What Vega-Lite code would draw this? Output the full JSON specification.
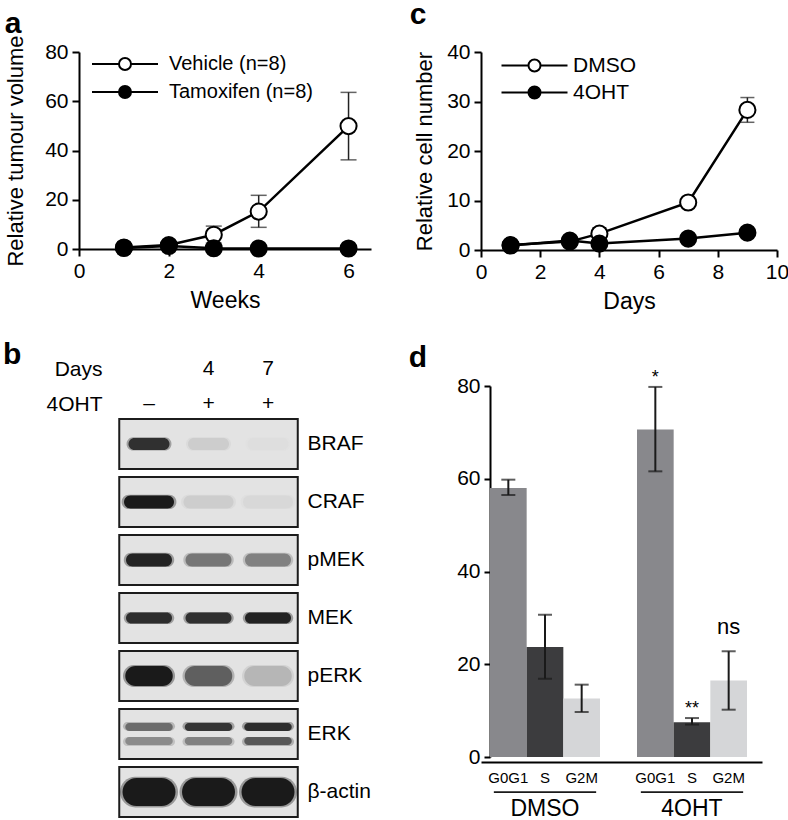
{
  "$schema": "https://vega.github.io/schema/vega-lite/v6.json",
  "padding": {"left": 2, "top": 0, "right": 0, "bottom": 0},
  "background": "white",
  "config": {
    "font": "Liberation Sans",
    "view": {"stroke": null},
    "axis": {"domainColor": "black", "tickColor": "black", "labelColor": "black", "titleColor": "black", "domainWidth": 2, "tickWidth": 2, "grid": false, "labelFont": "Liberation Sans", "titleFont": "Liberation Sans", "titleFontWeight": "normal"},
    "legend": {"labelFont": "Liberation Sans", "labelColor": "black"},
    "title": {"font": "Liberation Sans", "fontSize": 30, "fontWeight": "bold", "anchor": "start", "frame": "bounds", "baseline": "alphabetic", "color": "black"}
  },
  "spacing": 37,
  "resolve": {"scale": {"color": "independent", "fill": "independent", "shape": "independent"}, "legend": {"fill": "independent", "color": "independent", "shape": "independent"}},
  "hconcat": [
    {
      "spacing": 28,
      "resolve": {"scale": {"color": "independent", "fill": "independent", "shape": "independent"}, "legend": {"fill": "independent", "color": "independent", "shape": "independent"}},
      "vconcat": [
        {
          "title": {"text": "a", "offset": -4},
          "width": 292,
          "height": 197,
          "data": {"values": [
            {"series": "Vehicle (n=8)", "week": 1, "vol": 0.6, "lo": null, "hi": null},
            {"series": "Vehicle (n=8)", "week": 2, "vol": 1.6, "lo": null, "hi": null},
            {"series": "Vehicle (n=8)", "week": 3, "vol": 5.8, "lo": 2.4, "hi": 9.3},
            {"series": "Vehicle (n=8)", "week": 4, "vol": 15.2, "lo": 8.8, "hi": 21.8},
            {"series": "Vehicle (n=8)", "week": 6, "vol": 49.9, "lo": 36.2, "hi": 63.6},
            {"series": "Tamoxifen (n=8)", "week": 1, "vol": 0.4, "lo": null, "hi": null},
            {"series": "Tamoxifen (n=8)", "week": 2, "vol": 1.2, "lo": null, "hi": null},
            {"series": "Tamoxifen (n=8)", "week": 3, "vol": 0.3, "lo": null, "hi": null},
            {"series": "Tamoxifen (n=8)", "week": 4, "vol": 0.2, "lo": null, "hi": null},
            {"series": "Tamoxifen (n=8)", "week": 6, "vol": 0.2, "lo": null, "hi": null}
          ]},
          "encoding": {
            "x": {"field": "week", "type": "quantitative", "scale": {"domain": [0, 6.5], "nice": false, "zero": false},
                  "axis": {"title": "Weeks", "values": [0, 2, 4, 6], "tickSize": 7, "labelFontSize": 21, "titleFontSize": 23, "labelPadding": 4, "titlePadding": 8, "labelFlush": false}}
          },
          "layer": [
            {"transform": [{"filter": "datum.hi != null"}], "mark": {"type": "rule", "color": "#222", "strokeWidth": 1.5},
             "encoding": {"y": {"field": "lo", "type": "quantitative", "scale": {"domain": [0, 80], "nice": false}}, "y2": {"field": "hi"}}},
            {"transform": [{"filter": "datum.hi != null"}], "mark": {"type": "tick", "orient": "horizontal", "size": 16, "thickness": 1.5, "color": "#222"},
             "encoding": {"y": {"field": "hi", "type": "quantitative", "scale": {"domain": [0, 80], "nice": false}}}},
            {"transform": [{"filter": "datum.hi != null"}], "mark": {"type": "tick", "orient": "horizontal", "size": 16, "thickness": 1.5, "color": "#222"},
             "encoding": {"y": {"field": "lo", "type": "quantitative", "scale": {"domain": [0, 80], "nice": false}}}},
            {"mark": {"type": "line", "color": "black", "strokeWidth": 2.5},
             "encoding": {"y": {"field": "vol", "type": "quantitative", "scale": {"domain": [0, 80], "nice": false},
                                "axis": {"title": "Relative tumour volume", "values": [0, 20, 40, 60, 80], "tickSize": 7, "labelFontSize": 21, "titleFontSize": 22, "labelPadding": 4, "titlePadding": 17}},
                          "detail": {"field": "series"}}},
            {"mark": {"type": "point", "filled": true, "stroke": "black", "strokeWidth": 2, "size": 260, "opacity": 1},
             "encoding": {"y": {"field": "vol", "type": "quantitative", "scale": {"domain": [0, 80], "nice": false}},
                          "fill": {"field": "series", "type": "nominal", "scale": {"domain": ["Vehicle (n=8)", "Tamoxifen (n=8)"], "range": ["white", "black"]},
                                   "legend": {"orient": "none", "legendX": 36, "legendY": 2, "title": null, "padding": 0,
                                              "symbolType": "M-5.5,0H-1M1,0H5.5M-1,0A1,1,0,1,0,1,0A1,1,0,1,0,-1,0Z", "symbolSize": 144,
                                              "symbolStrokeColor": "black", "symbolStrokeWidth": 2, "labelFontSize": 20, "labelOffset": 34, "rowPadding": 8,
                                              "encode": {"symbols": {"update": {"stroke": {"value": "black"}, "strokeWidth": {"value": 2}}}}}}}}
          ]
        },
        {
          "title": {"text": "b", "offset": -12, "dx": -43},
          "width": 219,
          "height": 452,
          "resolve": {"scale": {"y": "independent"}, "axis": {"y": "independent"}},
          "layer": [
            {
              "layer": [
                {
                  "data": {"values": [
                    {"protein": "BRAF"}, {"protein": "CRAF"}, {"protein": "pMEK"}, {"protein": "MEK"},
                    {"protein": "pERK"}, {"protein": "ERK"}, {"protein": "β-actin"}
                  ]},
                  "mark": {"type": "rect", "fill": "#e3e3e3", "stroke": "#1c1c1c", "strokeWidth": 2},
                  "encoding": {
                    "x": {"datum": 0.5, "type": "quantitative", "scale": {"domain": [-0.1765, 3.504], "nice": false, "zero": false}, "axis": null},
                    "x2": {"datum": 3.5},
                    "y": {"field": "protein", "type": "nominal",
                          "scale": {"domain": ["BRAF", "CRAF", "pMEK", "MEK", "pERK", "ERK", "β-actin"], "range": [54, 452], "paddingInner": 0.14, "paddingOuter": 0},
                          "axis": {"orient": "right", "title": null, "domain": false, "ticks": false, "labelFontSize": 21, "labelPadding": 9}}
                  }
                },
                {
                  "data": {"values": [
                    {"protein": "BRAF", "band": "BRAF", "lane": 1, "signal": 0.88},
                    {"protein": "BRAF", "band": "BRAF", "lane": 2, "signal": 0.1},
                    {"protein": "BRAF", "band": "BRAF", "lane": 3, "signal": 0.02},
                    {"protein": "CRAF", "band": "CRAF", "lane": 1, "signal": 1.0},
                    {"protein": "CRAF", "band": "CRAF", "lane": 2, "signal": 0.1},
                    {"protein": "CRAF", "band": "CRAF", "lane": 3, "signal": 0.05},
                    {"protein": "pMEK", "band": "pMEK", "lane": 1, "signal": 0.95},
                    {"protein": "pMEK", "band": "pMEK", "lane": 2, "signal": 0.5},
                    {"protein": "pMEK", "band": "pMEK", "lane": 3, "signal": 0.45},
                    {"protein": "MEK", "band": "MEK", "lane": 1, "signal": 0.9},
                    {"protein": "MEK", "band": "MEK", "lane": 2, "signal": 0.88},
                    {"protein": "MEK", "band": "MEK", "lane": 3, "signal": 0.96},
                    {"protein": "pERK", "band": "pERK", "lane": 1, "signal": 1.0},
                    {"protein": "pERK", "band": "pERK", "lane": 2, "signal": 0.62},
                    {"protein": "pERK", "band": "pERK", "lane": 3, "signal": 0.2},
                    {"protein": "ERK", "band": "ERK upper", "lane": 1, "signal": 0.55},
                    {"protein": "ERK", "band": "ERK upper", "lane": 2, "signal": 0.85},
                    {"protein": "ERK", "band": "ERK upper", "lane": 3, "signal": 0.9},
                    {"protein": "ERK", "band": "ERK lower", "lane": 1, "signal": 0.4},
                    {"protein": "ERK", "band": "ERK lower", "lane": 2, "signal": 0.45},
                    {"protein": "ERK", "band": "ERK lower", "lane": 3, "signal": 0.65},
                    {"protein": "β-actin", "band": "β-actin", "lane": 1, "signal": 1.0},
                    {"protein": "β-actin", "band": "β-actin", "lane": 2, "signal": 1.0},
                    {"protein": "β-actin", "band": "β-actin", "lane": 3, "signal": 1.0}
                  ]},
                  "encoding": {
                    "x": {"field": "lane", "type": "quantitative", "scale": {"domain": [-0.1765, 3.504], "nice": false, "zero": false}, "axis": null},
                    "y": {"field": "protein", "type": "nominal"},
                    "shape": {"field": "band", "type": "nominal", "legend": null,
                              "scale": {"domain": ["BRAF", "CRAF", "pMEK", "MEK", "pERK", "ERK upper", "ERK lower", "β-actin"],
                                        "range": [
                                          "M-0.58,-0.24H0.58A0.24,0.24,0,0,1,0.58,0.24H-0.58A0.24,0.24,0,0,1,-0.58,-0.24Z",
                                          "M-0.74,-0.26H0.74A0.26,0.26,0,0,1,0.74,0.26H-0.74A0.26,0.26,0,0,1,-0.74,-0.26Z",
                                          "M-0.66,-0.26H0.66A0.26,0.26,0,0,1,0.66,0.26H-0.66A0.26,0.26,0,0,1,-0.66,-0.26Z",
                                          "M-0.7,-0.22H0.7A0.22,0.22,0,0,1,0.7,0.22H-0.7A0.22,0.22,0,0,1,-0.7,-0.22Z",
                                          "M-0.55,-0.4H0.55A0.4,0.4,0,0,1,0.55,0.4H-0.55A0.4,0.4,0,0,1,-0.55,-0.4Z",
                                          "M-0.79,-0.44H0.79A0.16,0.16,0,0,1,0.79,-0.12H-0.79A0.16,0.16,0,0,1,-0.79,-0.44Z",
                                          "M-0.79,0.12H0.79A0.16,0.16,0,0,1,0.79,0.44H-0.79A0.16,0.16,0,0,1,-0.79,0.12Z",
                                          "M-0.5,-0.56H0.5A0.56,0.56,0,0,1,0.5,0.56H-0.5A0.56,0.56,0,0,1,-0.5,-0.56Z"
                                        ]}},
                    "color": {"field": "signal", "type": "quantitative", "legend": null, "scale": {"domain": [0, 1], "range": ["#e3e3e3", "#0c0c0c"]}}
                  },
                  "layer": [
                    {"mark": {"type": "point", "filled": true, "size": 3000, "opacity": 0.35, "strokeWidth": 0}},
                    {"mark": {"type": "point", "filled": true, "size": 2500, "opacity": 0.9, "strokeWidth": 0}}
                  ]
                }
              ]
            },
            {
              "data": {"values": [
                {"row": "Days", "lane": 2, "label": "4"},
                {"row": "Days", "lane": 3, "label": "7"},
                {"row": "4OHT", "lane": 1, "label": "–"},
                {"row": "4OHT", "lane": 2, "label": "+"},
                {"row": "4OHT", "lane": 3, "label": "+"}
              ]},
              "mark": {"type": "text", "fontSize": 21, "baseline": "middle", "color": "black"},
              "encoding": {
                "x": {"field": "lane", "type": "quantitative", "scale": {"domain": [-0.1765, 3.504], "nice": false, "zero": false}, "axis": null},
                "y": {"field": "row", "type": "ordinal", "scale": {"type": "point", "domain": ["Days", "4OHT"], "range": [4, 39], "padding": 0},
                      "axis": {"orient": "left", "offset": -40, "title": null, "domain": false, "ticks": false, "labelFontSize": 21, "labelPadding": 17}},
                "text": {"field": "label"}
              }
            }
          ]
        }
      ]
    },
    {
      "spacing": 29,
      "resolve": {"scale": {"color": "independent", "fill": "independent", "shape": "independent"}, "legend": {"fill": "independent", "color": "independent", "shape": "independent"}},
      "vconcat": [
        {
          "title": {"text": "c", "offset": 11, "dx": -4},
          "width": 296,
          "height": 198,
          "data": {"values": [
            {"series": "DMSO", "day": 1, "cells": 1.0, "lo": null, "hi": null},
            {"series": "DMSO", "day": 3, "cells": 1.7, "lo": null, "hi": null},
            {"series": "DMSO", "day": 4, "cells": 3.3, "lo": 2.2, "hi": 4.5},
            {"series": "DMSO", "day": 7, "cells": 9.6, "lo": null, "hi": null},
            {"series": "DMSO", "day": 9, "cells": 28.3, "lo": 25.8, "hi": 30.8},
            {"series": "4OHT", "day": 1, "cells": 0.9, "lo": null, "hi": null},
            {"series": "4OHT", "day": 3, "cells": 1.9, "lo": null, "hi": null},
            {"series": "4OHT", "day": 4, "cells": 1.3, "lo": null, "hi": null},
            {"series": "4OHT", "day": 7, "cells": 2.3, "lo": null, "hi": null},
            {"series": "4OHT", "day": 9, "cells": 3.5, "lo": null, "hi": null}
          ]},
          "encoding": {
            "x": {"field": "day", "type": "quantitative", "scale": {"domain": [0, 10], "nice": false, "zero": false},
                  "axis": {"title": "Days", "values": [0, 2, 4, 6, 8, 10], "tickSize": 7, "labelFontSize": 21, "titleFontSize": 23, "labelPadding": 4, "titlePadding": 8, "labelFlush": false}}
          },
          "layer": [
            {"transform": [{"filter": "datum.hi != null"}], "mark": {"type": "rule", "color": "#222", "strokeWidth": 1.5},
             "encoding": {"y": {"field": "lo", "type": "quantitative", "scale": {"domain": [0, 40], "nice": false}}, "y2": {"field": "hi"}}},
            {"transform": [{"filter": "datum.hi != null"}], "mark": {"type": "tick", "orient": "horizontal", "size": 14, "thickness": 1.5, "color": "#222"},
             "encoding": {"y": {"field": "hi", "type": "quantitative", "scale": {"domain": [0, 40], "nice": false}}}},
            {"transform": [{"filter": "datum.hi != null"}], "mark": {"type": "tick", "orient": "horizontal", "size": 14, "thickness": 1.5, "color": "#222"},
             "encoding": {"y": {"field": "lo", "type": "quantitative", "scale": {"domain": [0, 40], "nice": false}}}},
            {"mark": {"type": "line", "color": "black", "strokeWidth": 2.5},
             "encoding": {"y": {"field": "cells", "type": "quantitative", "scale": {"domain": [0, 40], "nice": false},
                                "axis": {"title": "Relative cell number", "values": [0, 10, 20, 30, 40], "tickSize": 7, "labelFontSize": 21, "titleFontSize": 22, "labelPadding": 4, "titlePadding": 10}},
                          "detail": {"field": "series"}}},
            {"mark": {"type": "point", "filled": true, "stroke": "black", "strokeWidth": 2, "size": 260, "opacity": 1},
             "encoding": {"y": {"field": "cells", "type": "quantitative", "scale": {"domain": [0, 40], "nice": false}},
                          "fill": {"field": "series", "type": "nominal", "scale": {"domain": ["DMSO", "4OHT"], "range": ["white", "black"]},
                                   "legend": {"orient": "none", "legendX": 43, "legendY": 3, "title": null, "padding": 0,
                                              "symbolType": "M-5.5,0H-1M1,0H5.5M-1,0A1,1,0,1,0,1,0A1,1,0,1,0,-1,0Z", "symbolSize": 144,
                                              "symbolStrokeColor": "black", "symbolStrokeWidth": 2, "labelFontSize": 21, "labelOffset": 28, "rowPadding": 5,
                                              "encode": {"symbols": {"update": {"stroke": {"value": "black"}, "strokeWidth": {"value": 2}}}}}}}}
          ]
        },
        {
          "title": {"text": "d", "offset": -4, "dx": -48},
          "width": 281,
          "height": 371,
          "data": {"values": [
            {"treatment": "DMSO", "phase": "G0G1", "pct": 58.0, "lo": 56.5, "hi": 59.8, "sig": ""},
            {"treatment": "DMSO", "phase": "S", "pct": 23.7, "lo": 16.9, "hi": 30.7, "sig": ""},
            {"treatment": "DMSO", "phase": "G2M", "pct": 12.6, "lo": 9.7, "hi": 15.6, "sig": ""},
            {"treatment": "4OHT", "phase": "G0G1", "pct": 70.6, "lo": 61.6, "hi": 79.8, "sig": "*"},
            {"treatment": "4OHT", "phase": "S", "pct": 7.5, "lo": 7.0, "hi": 8.4, "sig": "**"},
            {"treatment": "4OHT", "phase": "G2M", "pct": 16.5, "lo": 10.2, "hi": 22.8, "sig": "ns"}
          ]},
          "encoding": {
            "x": {"field": "treatment", "type": "nominal",
                  "scale": {"domain": ["DMSO", "4OHT"], "paddingInner": 0.2517, "paddingOuter": 0.0816, "align": 0.375},
                  "axis": {"title": null, "orient": "bottom", "offset": 5, "ticks": false, "labelFontSize": 23, "labelPadding": 35, "labelAngle": 0}}
          },
          "layer": [
            {"mark": {"type": "bar"},
             "encoding": {
               "xOffset": {"field": "phase", "type": "nominal", "scale": {"domain": ["G0G1", "S", "G2M"], "paddingInner": 0, "paddingOuter": 0}},
               "y": {"field": "pct", "type": "quantitative", "scale": {"domain": [0, 80], "nice": false},
                     "axis": {"title": null, "offset": -9, "values": [0, 20, 40, 60, 80], "tickSize": 6, "labelFontSize": 21, "labelPadding": 4}},
               "color": {"field": "phase", "type": "nominal", "legend": null, "scale": {"domain": ["G0G1", "S", "G2M"], "range": ["#88888c", "#3c3c3e", "#d5d6d8"]}}
             }},
            {"mark": {"type": "rule", "color": "#1a1a1a", "strokeWidth": 2},
             "encoding": {
               "xOffset": {"field": "phase", "type": "nominal", "scale": {"domain": ["G0G1", "S", "G2M"], "paddingInner": 0, "paddingOuter": 0}},
               "y": {"field": "lo", "type": "quantitative", "scale": {"domain": [0, 80], "nice": false}}, "y2": {"field": "hi"}
             }},
            {"mark": {"type": "tick", "orient": "horizontal", "size": 14, "thickness": 2, "color": "#1a1a1a"},
             "encoding": {
               "xOffset": {"field": "phase", "type": "nominal", "scale": {"domain": ["G0G1", "S", "G2M"], "paddingInner": 0, "paddingOuter": 0}},
               "y": {"field": "hi", "type": "quantitative", "scale": {"domain": [0, 80], "nice": false}}
             }},
            {"mark": {"type": "tick", "orient": "horizontal", "size": 14, "thickness": 2, "color": "#1a1a1a"},
             "encoding": {
               "xOffset": {"field": "phase", "type": "nominal", "scale": {"domain": ["G0G1", "S", "G2M"], "paddingInner": 0, "paddingOuter": 0}},
               "y": {"field": "lo", "type": "quantitative", "scale": {"domain": [0, 80], "nice": false}}
             }},
            {"mark": {"type": "text", "fontSize": 15, "baseline": "middle", "color": "black"},
             "encoding": {
               "xOffset": {"field": "phase", "type": "nominal", "scale": {"domain": ["G0G1", "S", "G2M"], "paddingInner": 0, "paddingOuter": 0}},
               "y": {"datum": -4.5, "type": "quantitative", "scale": {"domain": [0, 80], "nice": false}},
               "text": {"field": "phase"}
             }},
            {"transform": [{"filter": "datum.phase == 'S'"}],
             "mark": {"type": "bar", "color": "#1a1a1a", "width": {"band": 0.93}},
             "encoding": {
               "y": {"datum": -7.4, "type": "quantitative", "scale": {"domain": [0, 80], "nice": false}},
               "y2": {"datum": -7.75}
             }},
            {"transform": [{"filter": "datum.sig == '*' || datum.sig == '**'"}],
             "mark": {"type": "text", "fontSize": 18, "baseline": "alphabetic", "dy": -4, "color": "black"},
             "encoding": {
               "xOffset": {"field": "phase", "type": "nominal", "scale": {"domain": ["G0G1", "S", "G2M"], "paddingInner": 0, "paddingOuter": 0}},
               "y": {"field": "hi", "type": "quantitative", "scale": {"domain": [0, 80], "nice": false}},
               "text": {"field": "sig"}
             }},
            {"transform": [{"filter": "datum.sig == 'ns'"}],
             "mark": {"type": "text", "fontSize": 22, "baseline": "alphabetic", "dy": -17, "color": "black"},
             "encoding": {
               "xOffset": {"field": "phase", "type": "nominal", "scale": {"domain": ["G0G1", "S", "G2M"], "paddingInner": 0, "paddingOuter": 0}},
               "y": {"field": "hi", "type": "quantitative", "scale": {"domain": [0, 80], "nice": false}},
               "text": {"field": "sig"}
             }}
          ]
        }
      ]
    }
  ]
}
